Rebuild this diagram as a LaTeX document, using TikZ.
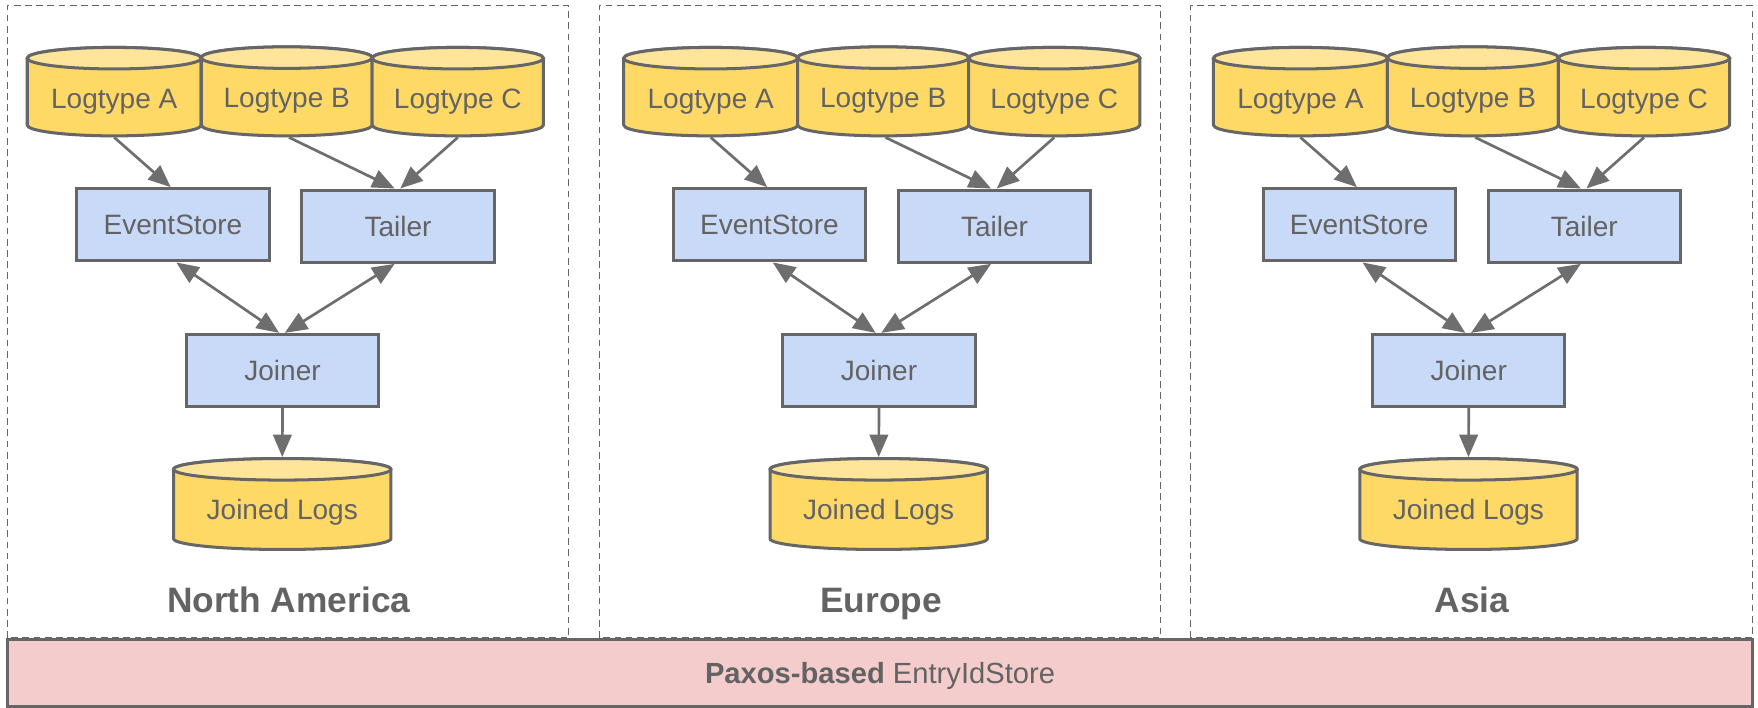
\documentclass[tikz,border=0pt]{standalone}
\usepackage{fontspec}
\setmainfont{Liberation Sans}
\usetikzlibrary{arrows.meta}
\definecolor{edgegray}{HTML}{666666}
\definecolor{arrowgray}{HTML}{6E6E6E}
\definecolor{txtgray}{HTML}{636363}
\definecolor{drumbodyfill}{HTML}{FFD966}
\definecolor{drumtopfill}{HTML}{FFE599}
\definecolor{procfill}{HTML}{C9DAF8}
\definecolor{barfill}{HTML}{F4CCCC}

\def\dry{9.6}
% database drum: name, left x, right x, top-ellipse y, bottom-ellipse y, label, label y
\newcommand\drum[7]{%
  \pgfmathsetmacro\dcx{(#2+#3)/2}%
  \pgfmathsetmacro\drx{(#3-#2)/2}%
  \pgfmathsetmacro\dcy{(#4+#5)/2}%
  \pgfmathsetmacro\dw{#3-#2+2.7}%
  \pgfmathsetmacro\dh{#4-#5+2*\dry+2.7}%
  \path[drumbody] (#2,#4) -- (#2,#5)
    arc[start angle=180,end angle=360,x radius=\drx,y radius=\dry]
    -- (#3,#4)
    arc[start angle=0,end angle=180,x radius=\drx,y radius=\dry] -- cycle;
  \path[drumtop] (\dcx,#4) ellipse[x radius=\drx,y radius=\dry];
  \node[inner sep=0pt,outer sep=0pt,minimum width=\dw pt,minimum height=\dh pt] (#1) at (\dcx,\dcy) {};
  \node[lbl] (#1-t) at (\dcx,#7) {#6};
}

% one regional pipeline: name prefix, horizontal shift
\newcommand\region[2]{%
  \begin{scope}[xshift=#2pt]
    \drum{#1a}{24.3}{179.5}{579.1}{519.4}{Logtype A}{543.3}
    \drum{#1b}{179.5}{332}{579.6}{519.4}{Logtype B}{543.8}
    \drum{#1c}{332}{484.7}{579.1}{519.4}{Logtype C}{543.3}
    \node[proc] (#1es) at (154.25,430.5) {EventStore};
    \node[proc] (#1tl) at (355,429.25) {Tailer};
    \node[proc] (#1jn) at (252,300.5) {Joiner};
    \drum{#1jl}{154.8}{348.7}{212.4}{150.5}{Joined Logs}{176.6}
    \draw[flow] (#1a.south) -- ([xshift=-2pt]#1es.north);
    \draw[flow] ([xshift=2pt]#1b.south) -- ([xshift=-3pt]#1tl.north);
    \draw[flow] (#1c.south) -- ([xshift=2pt]#1tl.north);
    \draw[both] ([xshift=3pt]#1es.south) -- ([xshift=-3pt]#1jn.north);
    \draw[both] ([xshift=-3pt]#1tl.south) -- ([xshift=2pt]#1jn.north);
    \draw[flow] (#1jn.south) -- (#1jl.north);
  \end{scope}}

\begin{document}
\begin{tikzpicture}[x=1pt,y=1pt,
  lbl/.style={inner sep=0pt,text=txtgray,font=\fontsize{25}{30}\selectfont,
    text height=17.9pt,text depth=0pt},
  drumbody/.style={draw=edgegray,fill=drumbodyfill,line width=2.7pt,line join=round},
  drumtop/.style={draw=edgegray,fill=drumtopfill,line width=2.7pt},
  proc/.style={lbl,draw=edgegray,fill=procfill,line width=2.7pt,
    minimum width=171.5pt,minimum height=64.5pt,outer sep=1.35pt},
  flow/.style={draw=arrowgray,line width=2.4pt,-{Triangle[length=20pt,width=16.5pt]}},
  both/.style={draw=arrowgray,line width=2.4pt,
    {Triangle[length=20pt,width=16.5pt]}-{Triangle[length=20pt,width=16.5pt]}},
  zone/.style={draw=edgegray,line width=1.2pt,dash pattern=on 6pt off 4pt},
  zonename/.style={lbl,font=\fontsize{31.5}{36}\selectfont\bfseries,text height=22.6pt},
  bar/.style={lbl,draw=edgegray,fill=barfill,line width=2.7pt,
    minimum width=1556.2pt,minimum height=60pt,font=\fontsize{26}{30}\selectfont,
    text height=18.6pt}]
\useasboundingbox (0,0) rectangle (1568,631);

% dashed regional frames
\draw[zone] (6.6,62) rectangle (507,626.3);
\draw[zone] (534.5,62) rectangle (1035,626.3);
\draw[zone] (1062,62) rectangle (1563,626.3);

\region{na}{0}
\region{eu}{532}
\region{as}{1058}

\node[zonename] (naname) at (257.5,95.6) {North America};
\node[zonename] (euname) at (786,95.6) {Europe};
\node[zonename] (asname) at (1313,95.6) {Asia};

% shared id store across all regions
\node[bar] (paxos) at (784.9,30.5) {\textbf{Paxos-based} EntryIdStore};
\end{tikzpicture}
\end{document}
